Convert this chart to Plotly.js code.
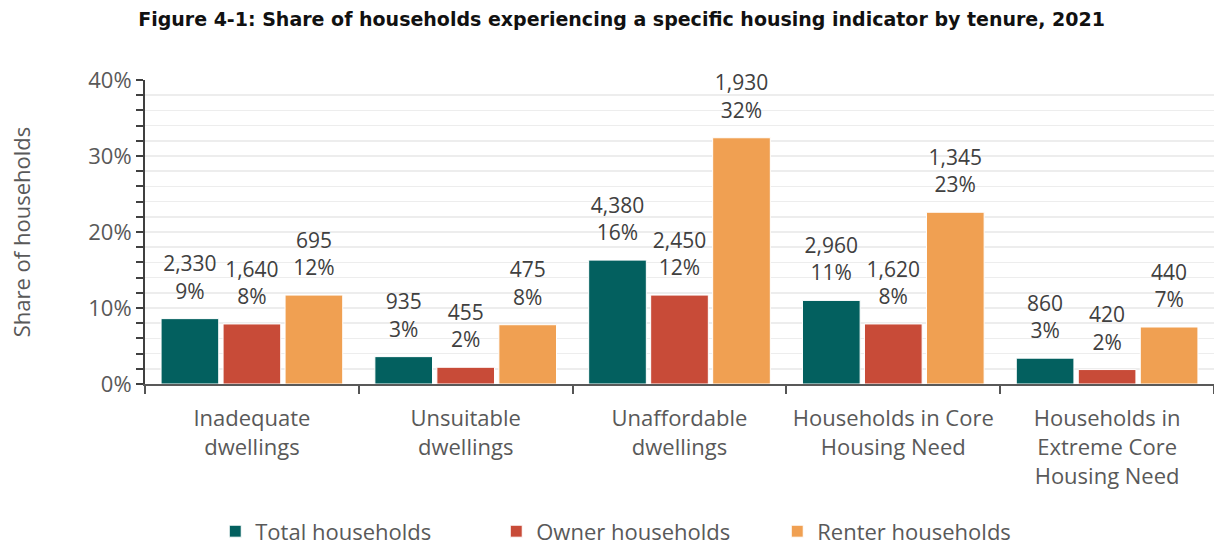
<!DOCTYPE html>
<html>
<head>
<meta charset="utf-8">
<script src="https://cdn.plot.ly/plotly-3.0.1.min.js"></script>
<style>html,body{margin:0;padding:0;background:#fff;}</style>
</head>
<body>
<div id="chart" style="width:1214px;height:550px;"></div>
<script>
const categories = ["Inadequate<br>dwellings", "Unsuitable<br>dwellings", "Unaffordable<br>dwellings", "Households in Core<br>Housing Need", "Households in<br>Extreme Core<br>Housing Need"];
const seriesNames = ["Total households", "Owner households", "Renter households"];
const totalShare = [0.086, 0.036, 0.163, 0.110, 0.034];
const ownerShare = [0.079, 0.022, 0.117, 0.079, 0.019];
const renterShare = [0.117, 0.078, 0.324, 0.226, 0.075];
const totalCount = [2330, 935, 4380, 2960, 860];
const ownerCount = [1640, 455, 2450, 1620, 420];
const renterCount = [695, 475, 1930, 1345, 440];
const totalPct = ["9%", "3%", "16%", "11%", "3%"];
const ownerPct = ["8%", "2%", "12%", "8%", "2%"];
const renterPct = ["12%", "8%", "32%", "23%", "7%"];
const colors = ["#03605F", "#C84B38", "#F0A052"];

const fontFam = "'Open Sans', Lato, sans-serif";
function lbl(counts, pcts) {
  return counts.map((c, i) => c.toLocaleString('en-US') + '<br>' + pcts[i]);
}
const shares = [totalShare, ownerShare, renterShare];
const texts = [lbl(totalCount, totalPct), lbl(ownerCount, ownerPct), lbl(renterCount, renterPct)];

const bars = shares.map((s, k) => ({
  type: 'bar',
  name: seriesNames[k],
  x: categories,
  y: s,
  offsetgroup: 'g' + k,
  marker: {color: colors[k], line: {color: '#ffffff', width: 1}},
  hoverinfo: 'none'
}));
const labels = shares.map((s, k) => ({
  type: 'scatter',
  mode: 'markers+text',
  x: categories,
  y: s,
  offsetgroup: 'g' + k,
  text: texts[k],
  textposition: 'top center',
  textfont: {family: fontFam, size: 21, color: '#404040'},
  marker: {size: 22, color: 'rgba(0,0,0,0)'},
  cliponaxis: false,
  showlegend: false,
  hoverinfo: 'none'
}));

const layout = {
  width: 1214, height: 550,
  margin: {l: 145, r: 0, t: 80, b: 166},
  paper_bgcolor: '#ffffff', plot_bgcolor: '#ffffff',
  barmode: 'group', bargap: 0.13, bargroupgap: 0.07,
  scattermode: 'group', scattergap: 0.13,
  title: {
    text: '<b>Figure 4-1: Share of households experiencing a specific housing indicator by tenure, 2021</b>',
    font: {family: "'DejaVu Sans', sans-serif", size: 19, color: '#111111'},
    x: 0.512, xanchor: 'center', y: 0.964, yanchor: 'middle'
  },
  xaxis: {
    type: 'category',
    tickson: 'boundaries',
    tickangle: 0,
    ticks: 'outside', ticklen: 8, tickwidth: 2, tickcolor: '#555555',
    showline: true, linecolor: '#595959', linewidth: 2,
    showgrid: false,
    ticklabelstandoff: 14,
    tickfont: {family: fontFam, size: 22, color: '#595959'},
    automargin: false
  },
  yaxis: {
    range: [0, 0.40],
    dtick: 0.1, tickformat: '.0%',
    ticks: 'outside', ticklen: 7, tickwidth: 2, tickcolor: '#404040',
    showline: true, linecolor: '#404040', linewidth: 2,
    showgrid: true, gridcolor: '#EDEDED', gridwidth: 1.5,
    zeroline: false,
    minor: {dtick: 0.02, ticks: 'outside', ticklen: 7, tickwidth: 2, tickcolor: '#404040', showgrid: true, gridcolor: '#EDEDED', gridwidth: 1.5},
    tickfont: {family: fontFam, size: 22, color: '#595959'},
    title: {text: 'Share of households', font: {family: fontFam, size: 22, color: '#595959'}, standoff: 52},
    automargin: false
  },
  yaxis2: {
    overlaying: 'y', side: 'left', range: [0, 0.40],
    dtick: 0.02, ticks: 'inside', ticklen: 7, tickwidth: 2, tickcolor: '#404040',
    showticklabels: false, showgrid: false, showline: false, zeroline: false
  },
  legend: {
    orientation: 'h', x: 0.46, xanchor: 'center', yref: 'container', y: 0.072, yanchor: 'top',
    font: {family: fontFam, size: 22, color: '#595959'},
    itemwidth: 30, traceorder: 'normal', entrywidth: 236
  },
  showlegend: true
};

Plotly.newPlot('chart', bars.concat(labels), layout, {staticPlot: true, displayModeBar: false});
</script>
</body>
</html>
